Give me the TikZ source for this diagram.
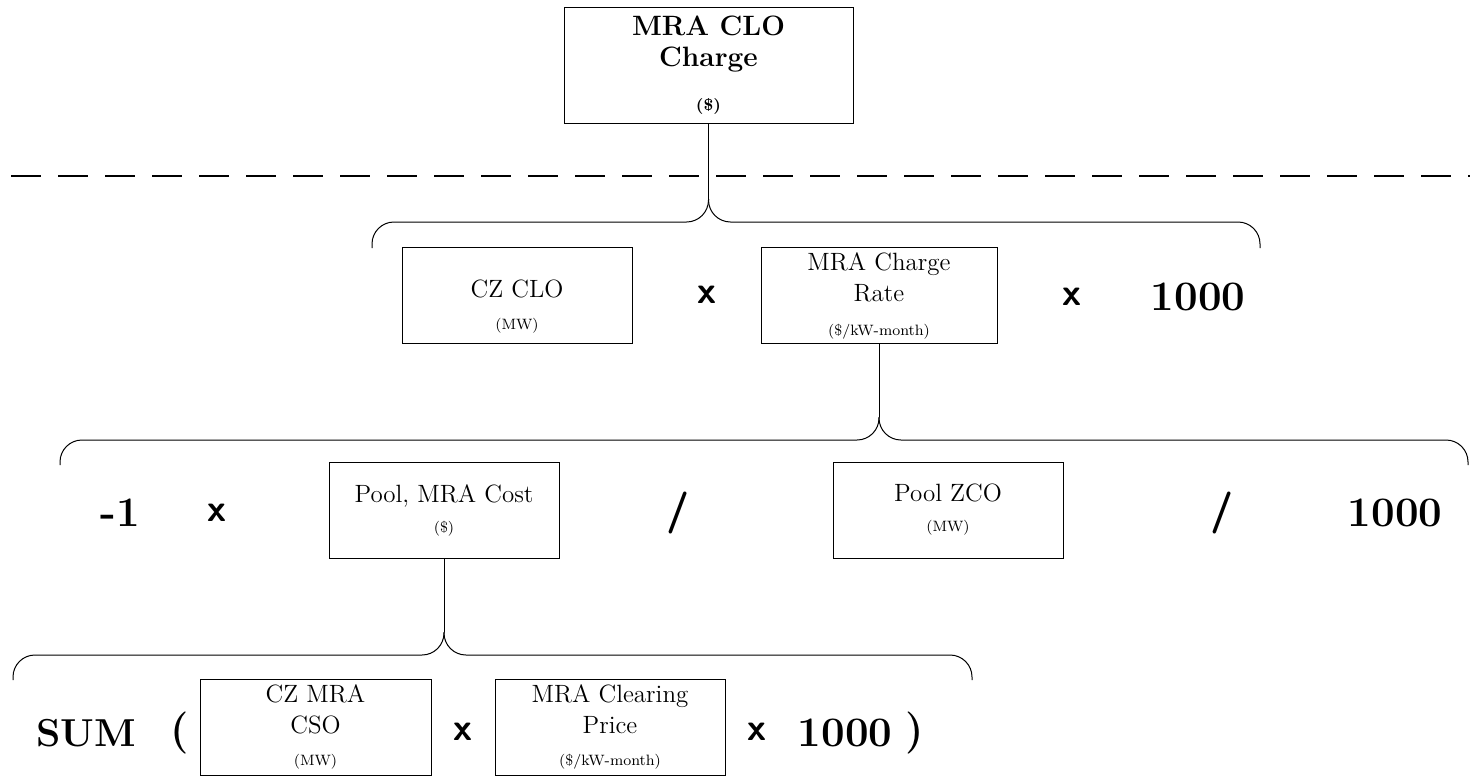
\documentclass[tikz,border=0pt]{standalone}
\usepackage{tikz}

\newcommand{\unitfont}{\fontsize{7.5}{8}\selectfont}

\begin{document}
\begin{tikzpicture}[x=0.5pt, y=-0.5pt,
    termbox/.style={draw, line width=0.5pt, align=center, inner sep=0pt,
      minimum width=115pt, minimum height=48pt,
      font=\fontsize{12.5}{15.5}\selectfont},
    opsym/.style={font=\sffamily\bfseries\fontsize{19}{19}\selectfont},
    divsym/.style={font=\sffamily\bfseries\fontsize{21}{21}\selectfont},
    bignum/.style={font=\bfseries\fontsize{21}{21}\selectfont},
    brace/.style={line width=0.5pt, rounded corners=11pt}]
  \useasboundingbox (0,0) rectangle (1470,776);

  % top result
  \node[termbox, minimum width=144.5pt, minimum height=58pt,
    font=\bfseries\fontsize{14}{15.5}\selectfont] (total) at (708.5,65)
    {MRA CLO\\Charge\\[6.5pt]{\fontsize{8}{9}\selectfont(\$)}};
  \draw[line width=1pt, dash pattern=on 15pt off 8.5pt, dash phase=18pt]
    (0,176) -- (1470,176);

  % first level
  \node[termbox] (czclo) at (517,295.5)
    {\rule{0pt}{20pt}CZ CLO\\[0.5pt]{\unitfont(MW)}};
  \node[opsym] (times1) at (707,295) {x};
  \node[termbox, minimum width=118pt] (rate) at (879,295.5)
    {MRA Charge\\Rate\\[1.5pt]{\unitfont(\$/kW-month)}};
  \node[opsym] (times2) at (1072,297) {x};
  \node[bignum] (kilo1) at (1198,297) {1000};

  \coordinate (tipA) at (total.south |- 0,199);
  \draw[brace] (372,248) |- (tipA |- 0,222) -- (tipA);
  \draw[brace] (1260,248) |- (tipA |- 0,222) -- (tipA);
  \draw[line width=0.5pt] (total.south) -- (tipA);

  % second level
  \node[bignum] (neg) at (120,513) {-1};
  \node[opsym] (times3) at (217,513) {x};
  \node[termbox] (poolcost) at (444,510)
    {Pool, MRA Cost\\[-0.5pt]{\unitfont(\$)}};
  \node[divsym] (div1) at (678,513) {/};
  \node[termbox] (poolzco) at (948,510)
    {Pool ZCO\\[-0.5pt]{\unitfont(MW)}};
  \node[divsym] (div2) at (1222,513) {/};
  \node[bignum] (kilo2) at (1395,513) {1000};

  \coordinate (tipB) at (rate.south |- 0,417);
  \draw[brace] (60,465) |- (tipB |- 0,440) -- (tipB);
  \draw[brace] (1468,465) |- (tipB |- 0,440) -- (tipB);
  \draw[line width=0.5pt] (rate.south) -- (tipB);

  % third level
  \node[bignum, font=\bfseries\fontsize{19.5}{20}\selectfont] (sum) at (86,733) {SUM};
  \node[bignum] (lpar) at (180,733) {(};
  \node[termbox, minimum width=115.5pt] (czcso) at (315.5,727)
    {CZ MRA\\CSO\\[0.5pt]{\unitfont(MW)}};
  \node[opsym] (times4) at (463,732) {x};
  \node[termbox] (clearing) at (610,727)
    {MRA Clearing\\Price\\[0.5pt]{\unitfont(\$/kW-month)}};
  \node[opsym] (times5) at (757,732) {x};
  \node[bignum] (kilo3) at (845,733) {1000};
  \node[bignum] (rpar) at (915,733) {)};

  \coordinate (tipC) at (poolcost.south |- 0,632);
  \draw[brace] (13,680) |- (tipC |- 0,655) -- (tipC);
  \draw[brace] (972,680) |- (tipC |- 0,655) -- (tipC);
  \draw[line width=0.5pt] (poolcost.south) -- (tipC);
\end{tikzpicture}
\end{document}
